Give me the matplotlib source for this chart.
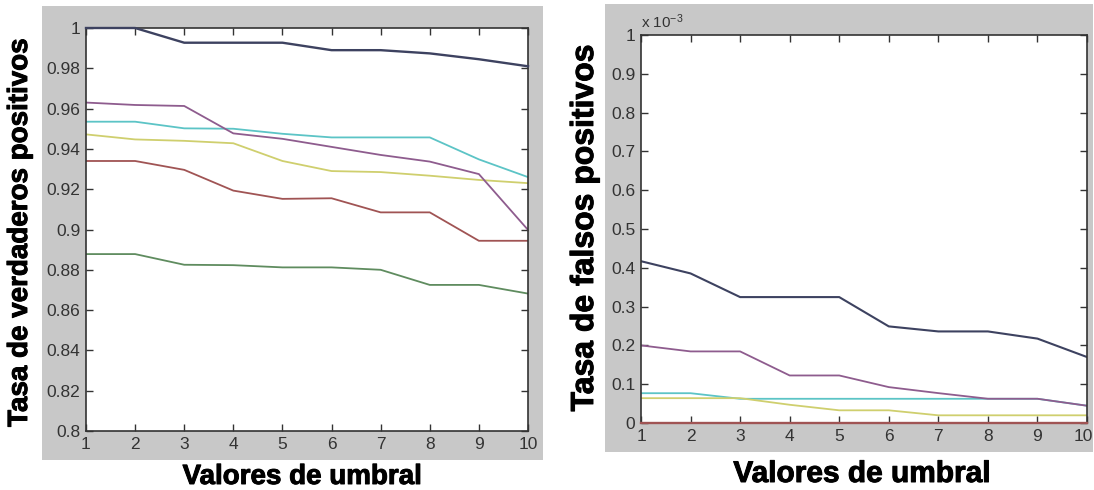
"""
Tasas de verdaderos / falsos positivos vs. valores de umbral
"""

import matplotlib
matplotlib.use("Agg")
import matplotlib.pyplot as plt
import matplotlib.patheffects as pe
import matplotlib.transforms as mtransforms
from matplotlib.patches import Rectangle
import numpy as np

# ── Datos ──────────────────────────────────────────────────
umbral = [1, 2, 3, 4, 5, 6, 7, 8, 9, 10]

# tasa de verdaderos positivos (panel izquierdo)
tvp_navy    = [1.000, 1.000, 0.9927, 0.9927, 0.9927, 0.989, 0.989, 0.9874, 0.9845, 0.981]
tvp_magenta = [0.963, 0.9618, 0.9613, 0.9477, 0.945, 0.941, 0.937, 0.9337, 0.9275, 0.8998]
tvp_cyan    = [0.9535, 0.9535, 0.9502, 0.950, 0.9475, 0.9457, 0.9457, 0.9457, 0.9348, 0.926]
tvp_yellow  = [0.9472, 0.9447, 0.944, 0.9428, 0.934, 0.929, 0.9285, 0.9267, 0.9246, 0.923]
tvp_maroon  = [0.934, 0.934, 0.9296, 0.9193, 0.9152, 0.9155, 0.9085, 0.9085, 0.8944, 0.8944]
tvp_green   = [0.8878, 0.8878, 0.8825, 0.8823, 0.8812, 0.8812, 0.880, 0.8725, 0.8725, 0.8682]

# tasa de falsos positivos (panel derecho, en unidades de 1e-3)
tfp_navy    = [0.417, 0.3855, 0.3245, 0.3245, 0.3245, 0.249, 0.236, 0.236, 0.2175, 0.170]
tfp_magenta = [0.200, 0.1845, 0.1845, 0.1225, 0.1225, 0.0925, 0.077, 0.0625, 0.0625, 0.0445]
tfp_cyan    = [0.0768, 0.0768, 0.0624, 0.0624, 0.0624, 0.0624, 0.0624, 0.0624, 0.0624, 0.0445]
tfp_yellow  = [0.064, 0.064, 0.064, 0.047, 0.0327, 0.0327, 0.0198, 0.0198, 0.0198, 0.0198]
tfp_maroon  = [0, 0, 0, 0, 0, 0, 0, 0, 0, 0]

tvp_yticks = [0.8, 0.82, 0.84, 0.86, 0.88, 0.9, 0.92, 0.94, 0.96, 0.98, 1]
tfp_yticks = [0, 0.1, 0.2, 0.3, 0.4, 0.5, 0.6, 0.7, 0.8, 0.9, 1]

# ── Estilo ─────────────────────────────────────────────────
C_NAVY    = '#3d4260'
C_MAGENTA = '#8e5c8e'
C_CYAN    = '#5cc4c6'
C_YELLOW  = '#cfcf6e'
C_MAROON  = '#a05454'
C_GREEN   = '#5f8c5f'
GRAY      = '#c8c8c8'
TICK_FONT = ['Liberation Sans', 'DejaVu Sans']
LABEL_FONT = ['Liberation Sans', 'DejaVu Sans']
LW = 1.3

plt.rcParams['mathtext.fontset'] = 'custom'
plt.rcParams['mathtext.rm'] = 'Liberation Sans'
plt.rcParams['mathtext.it'] = 'Liberation Sans'

W, H = 1094, 490
fig = plt.figure(figsize=(W / 100, H / 100), dpi=100)
fig.patch.set_facecolor('white')


def px_box(x0, y0, x1, y1):
    # caja en pixeles (origen arriba-izquierda) -> fracciones de figura
    return [x0 / W, 1 - y1 / H, (x1 - x0) / W, (y1 - y0) / H]


# marcos grises estilo MATLAB
fig.patches.append(Rectangle((42 / W, 1 - 460 / H), (543 - 42) / W, (460 - 6) / H,
                             transform=fig.transFigure, facecolor=GRAY,
                             edgecolor='none', zorder=-10))
fig.patches.append(Rectangle((605 / W, 1 - 452 / H), (1093 - 605) / W, (452 - 4) / H,
                             transform=fig.transFigure, facecolor=GRAY,
                             edgecolor='none', zorder=-10))

ax1 = fig.add_axes(px_box(86, 28, 528, 431))
ax2 = fig.add_axes(px_box(641, 35, 1087, 423))

bold_fx = [pe.withStroke(linewidth=0.7, foreground='black')]


def style_axes(ax, yticks):
    ax.set_facecolor('white')
    ax.set_xlim(1, 10)
    ax.set_ylim(yticks[0], yticks[-1])
    ax.set_xticks(umbral)
    ax.set_xticklabels([f'{v:g}' for v in umbral])
    ax.set_yticks(yticks)
    ax.set_yticklabels([f'{v:g}' for v in yticks])
    ax.tick_params(direction='in', length=5, width=1, colors='#333333',
                   top=True, right=True, labelsize=12.5, pad=4)
    for lab in ax.get_xticklabels() + ax.get_yticklabels():
        lab.set_family(TICK_FONT)
    for sp in ax.spines.values():
        sp.set_color('#333333')
        sp.set_linewidth(1.2)


# ── Panel izquierdo ────────────────────────────────────────
style_axes(ax1, tvp_yticks)
ax1.plot(umbral, tvp_green,   color=C_GREEN,   lw=LW)
ax1.plot(umbral, tvp_maroon,  color=C_MAROON,  lw=LW)
ax1.plot(umbral, tvp_yellow,  color=C_YELLOW,  lw=LW)
ax1.plot(umbral, tvp_cyan,    color=C_CYAN,    lw=LW)
ax1.plot(umbral, tvp_magenta, color=C_MAGENTA, lw=LW)
ax1.plot(umbral, tvp_navy,    color=C_NAVY,    lw=LW + 0.4, clip_on=False, zorder=3)

fig.text(20 / W, 1 - 233 / H, 'Tasa de verdaderos positivos', rotation=90,
         ha='center', va='center', fontsize=20, fontweight='bold',
         family=LABEL_FONT, path_effects=bold_fx)
fig.text(302 / W, 1 - 477 / H, 'Valores de umbral', ha='center', va='center',
         fontsize=20, fontweight='bold', family=LABEL_FONT, path_effects=bold_fx)

# ── Panel derecho ──────────────────────────────────────────
style_axes(ax2, tfp_yticks)
ax2.plot(umbral, tfp_cyan,    color=C_CYAN,    lw=LW)
ax2.plot(umbral, tfp_yellow,  color=C_YELLOW,  lw=LW)
ax2.plot(umbral, tfp_magenta, color=C_MAGENTA, lw=LW)
ax2.plot(umbral, tfp_navy,    color=C_NAVY,    lw=LW + 0.2)
ax2.plot(umbral, tfp_maroon,  color=C_MAROON,  lw=LW + 0.4, clip_on=False, zorder=3)

# el "10" del borde derecho se corre un poco para que quepa
last = ax2.get_xticklabels()[-1]
last.set_transform(last.get_transform() +
                   mtransforms.ScaledTranslation(-4 / 100, 0, fig.dpi_scale_trans))

ax2.text(0.0, 1.01, r'x 10$^{-3}$', transform=ax2.transAxes, ha='left',
         va='bottom', fontsize=11, color='#333333', family=TICK_FONT)

fig.text(585 / W, 1 - 228 / H, 'Tasa de falsos positivos', rotation=90,
         ha='center', va='center', fontsize=23, fontweight='bold',
         family=LABEL_FONT, path_effects=bold_fx)
fig.text(862 / W, 1 - 474 / H, 'Valores de umbral', ha='center', va='center',
         fontsize=21.5, fontweight='bold', family=LABEL_FONT, path_effects=bold_fx)

plt.savefig('out.png', dpi=100)
